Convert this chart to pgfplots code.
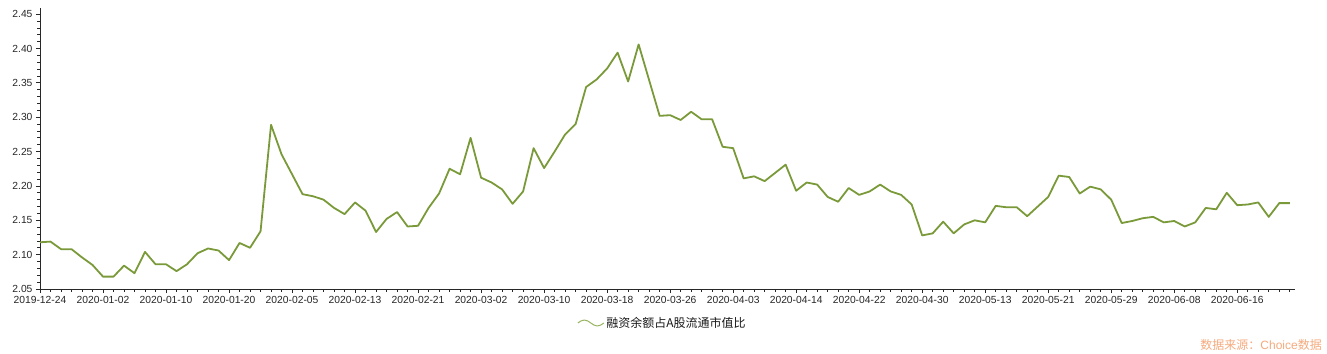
\documentclass[border=0pt]{standalone}
\usepackage{pgfplots}
\pgfplotsset{compat=1.18}
\usepackage{fontspec}
\setmainfont{Liberation Sans}
\newfontfamily\cjk{Noto Sans CJK SC}
\definecolor{linegreen}{RGB}{122,154,58}
\definecolor{legendgreen}{RGB}{150,180,95}
\definecolor{srcorange}{RGB}{245,170,125}
\definecolor{axisgray}{RGB}{40,40,40}
\begin{document}
\begin{tikzpicture}
\begin{axis}[
  scale only axis, width=1255pt, height=281pt,
  xmin=0, xmax=119.5, ymin=2.05, ymax=2.459,
  axis x line*=bottom, axis y line*=left,
  axis line style={draw=axisgray, line width=0.8pt, -},
  xtick={0,6,12,18,24,30,36,42,48,54,60,66,72,78,84,90,96,102,108,114},
  xticklabels={2019-12-24,2020-01-02,2020-01-10,2020-01-20,2020-02-05,2020-02-13,2020-02-21,2020-03-02,2020-03-10,2020-03-18,2020-03-26,2020-04-03,2020-04-14,2020-04-22,2020-04-30,2020-05-13,2020-05-21,2020-05-29,2020-06-08,2020-06-16},
  minor xtick={0,1,...,119},
  ytick={2.05,2.10,2.15,2.20,2.25,2.30,2.35,2.40,2.45},
  minor y tick num=4,
  tick align=outside,
  major tick length=4pt, minor tick length=2.5pt,
  tick style={draw=axisgray, line width=0.8pt},
  ticklabel style={font=\fontsize{10.3}{12}\selectfont, text=black!85},
  yticklabel style={/pgf/number format/.cd, fixed, fixed zerofill, precision=2, assume math mode=true},
  xticklabel style={/pgf/number format/assume math mode=true},
  legend style={at={(axis description cs:0.496,-0.121)}, anchor=center, draw=none, fill=none,
    font=\cjk\fontsize{12}{14}\selectfont, text=black!90,
    legend cell align=left},
  legend image code/.code={\draw[line width=1pt, color=legendgreen] (0pt,0pt) sin (6.5pt,3pt) cos (13pt,0pt) sin (19.5pt,-3pt) cos (26pt,0pt);},
]
\addplot[color=linegreen, line width=1.8pt, line join=round, mark=none] table[x=x, y=y] {
x y
0 2.118
1 2.119
2 2.108
3 2.108
4 2.096
5 2.085
6 2.068
7 2.068
8 2.084
9 2.073
10 2.104
11 2.086
12 2.086
13 2.076
14 2.086
15 2.102
16 2.109
17 2.106
18 2.092
19 2.117
20 2.110
21 2.134
22 2.289
23 2.246
24 2.217
25 2.188
26 2.185
27 2.180
28 2.168
29 2.159
30 2.176
31 2.164
32 2.133
33 2.152
34 2.162
35 2.141
36 2.142
37 2.168
38 2.189
39 2.225
40 2.217
41 2.270
42 2.212
43 2.205
44 2.195
45 2.174
46 2.192
47 2.255
48 2.226
49 2.250
50 2.275
51 2.290
52 2.344
53 2.355
54 2.371
55 2.394
56 2.352
57 2.406
58 2.354
59 2.302
60 2.303
61 2.296
62 2.308
63 2.297
64 2.297
65 2.257
66 2.255
67 2.211
68 2.214
69 2.207
70 2.219
71 2.231
72 2.193
73 2.205
74 2.202
75 2.184
76 2.177
77 2.197
78 2.187
79 2.192
80 2.202
81 2.192
82 2.187
83 2.173
84 2.128
85 2.131
86 2.148
87 2.131
88 2.144
89 2.150
90 2.147
91 2.171
92 2.169
93 2.169
94 2.156
95 2.170
96 2.184
97 2.215
98 2.213
99 2.189
100 2.199
101 2.195
102 2.180
103 2.146
104 2.149
105 2.153
106 2.155
107 2.147
108 2.149
109 2.141
110 2.147
111 2.168
112 2.166
113 2.190
114 2.172
115 2.173
116 2.176
117 2.155
118 2.175
119 2.175
};
\addlegendentry{融资余额占A股流通市值比}
\coordinate (SW) at (rel axis cs:0,0);
\coordinate (NE) at (rel axis cs:1,1);
\end{axis}
\node[anchor=east, text=srcorange, inner sep=0pt, font=\fontsize{12}{14}\selectfont] at ([shift={(1282pt,-56pt)}]SW) {{\cjk 数据来源：}Choice{\cjk 数据}};
\pgfresetboundingbox
\path ([shift={(-40pt,-64pt)}]SW) rectangle ([shift={(32pt,8pt)}]NE);
\end{tikzpicture}
\end{document}
